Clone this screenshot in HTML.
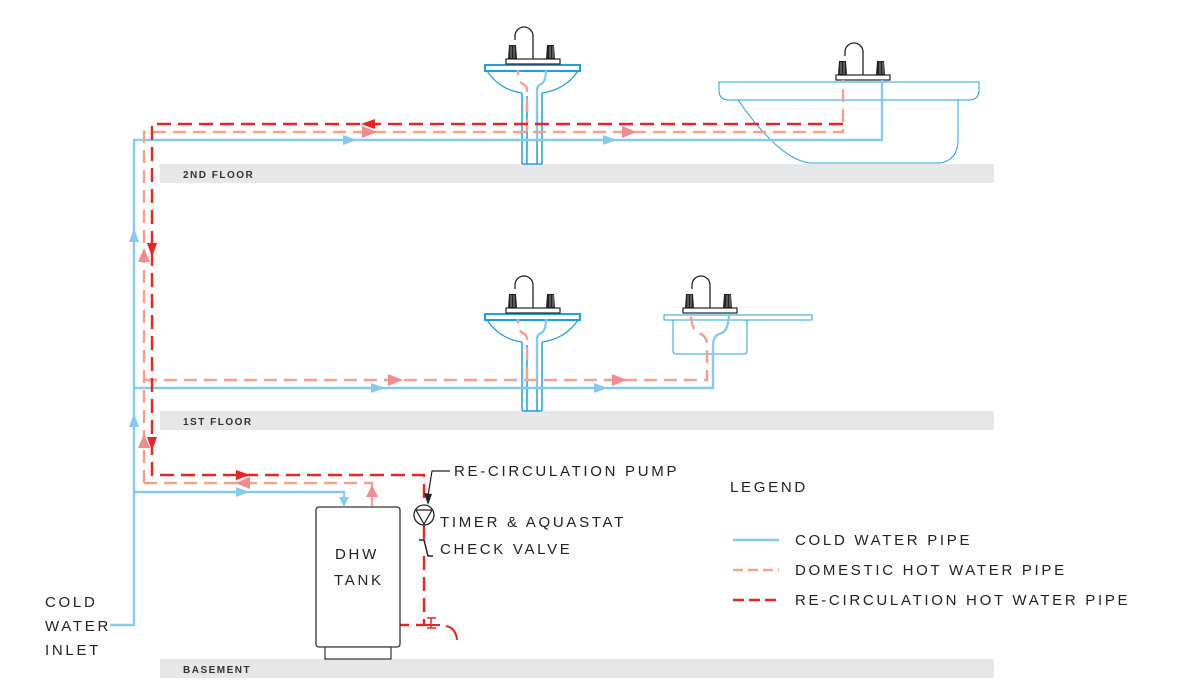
<!DOCTYPE html>
<html><head><meta charset="utf-8"><style>
html,body{margin:0;padding:0;background:#fff;}
svg{display:block;}
text{font-family:"Liberation Sans",sans-serif;fill:#222;}
.t{font-size:15px;letter-spacing:2.7px;}
.f{font-size:10px;font-weight:bold;letter-spacing:1.5px;fill:#333;}
</style></head><body>
<svg width="1196" height="693" viewBox="0 0 1196 693" xmlns="http://www.w3.org/2000/svg">
<defs>
<g id="fau">
 <path d="M-18,-24 V-28 A9,9 0 0 1 0,-28 V-5" fill="none" stroke="#222" stroke-width="1.3"/>
 <rect x="-27" y="-5" width="54" height="5" fill="#fff" stroke="#222" stroke-width="1.2"/>
 <path d="M-25,-5 L-24,-19 H-17 L-16,-5 Z M13,-5 L14,-19 H21 L22,-5 Z" fill="#222"/>
 <path d="M-22,-18 V-6 M-19,-18 V-6 M17,-18 V-6 M20,-18 V-6" stroke="#fff" stroke-width="0.5"/>
</g>
</defs>
<rect x="160" y="164" width="834" height="19" fill="#e6e7e8"/>
<rect x="160" y="411" width="834" height="19" fill="#e6e7e8"/>
<rect x="160" y="659" width="834" height="19" fill="#e6e7e8"/>
<text class="f" x="183" y="178">2ND FLOOR</text>
<text class="f" x="183" y="425">1ST FLOOR</text>
<text class="f" x="183" y="673">BASEMENT</text>

<g fill="none" stroke="#1ea0e0">
 <rect x="485" y="65" width="95" height="6" stroke-width="2"/>
 <path d="M487,71 Q500,90 522,93 M578,71 Q565,90 542,93" stroke-width="1.2"/>
 <path d="M522,93 V164 M542,93 V164 M527,96 V164 M537,96 V164 M522,164 H542" stroke-width="1.5"/>
</g>
<use href="#fau" x="533" y="64"/>
<g fill="none" stroke="#1ea0e0">
 <rect x="485" y="314" width="95" height="6" stroke-width="2"/>
 <path d="M487,320 Q500,339 522,342 M578,320 Q565,339 542,342" stroke-width="1.2"/>
 <path d="M522,342 V411 M542,342 V411 M527,345 V411 M537,345 V411 M522,411 H542" stroke-width="1.5"/>
</g>
<use href="#fau" x="533" y="313"/>
<g fill="none" stroke="#1ea0e0" stroke-width="1">
 <rect x="664" y="315" width="148" height="5"/>
 <path d="M673,320 V351 Q673,354 676,354 H744 Q747,354 747,351 V320"/>
</g>
<use href="#fau" x="710" y="313"/>
<g fill="none" stroke="#1ea0e0" stroke-width="1">
 <path d="M719,82 H979 V90 Q979,100 969,100 H729 Q719,100 719,90 Z"/>
 <path d="M738,100 Q780,160 810,163 H940 Q958,160 958,140 V100"/>
</g>
<use href="#fau" x="863" y="80"/>

<g fill="none" stroke="#86c9f0" stroke-width="2.4">
 <path d="M110,625 H134 V140 H882 V80"/>
 <path d="M134,388 H713 V345 Q713,335 722,333 Q728,330 729,316"/>
 <path d="M134,492 H344 V505"/>
 <path d="M537,140 V90 Q537,86 541,84 Q546,82 546,70"/>
 <path d="M537,388 V339 Q537,335 541,333 Q546,331 546,319"/>
</g>
<g fill="none" stroke="#f5a08c" stroke-width="2.4" stroke-dasharray="13,7">
 <path d="M144,483 V132 H843 V80"/>
 <path d="M144,380 H707 V345 Q707,335 698,333 Q692,330 691,316"/>
 <path d="M144,483 H372 V506"/>
 <path d="M527,132 V90 Q527,86 523,84 Q518,82 518,70"/>
 <path d="M527,380 V339 Q527,335 523,333 Q518,331 518,319"/>
</g>
<g fill="none" stroke="#ee2222" stroke-width="2.4" stroke-dasharray="14,7">
 <path d="M843,124 H152 V475 H424 V505"/>
 <path d="M424,525 V540 M424,556 V625 H400"/>
</g>
<path d="M424,625 H440" stroke="#ee2222" stroke-width="2"/>
<path d="M431,618 V628 M427,618 H436 M427,628 H436" stroke="#ee2222" stroke-width="1.5" fill="none"/>
<path d="M446,626 Q456,628 457,640" stroke="#ee2222" stroke-width="2" fill="none"/>

<g fill="#86c9f0">
 <path d="M343,135 L357,140 L343,145 Z"/><path d="M603,135 L617,140 L603,145 Z"/>
 <path d="M371,383 L385,388 L371,393 Z"/><path d="M594,383 L608,388 L594,393 Z"/>
 <path d="M236,487 L250,492 L236,497 Z"/>
 <path d="M129,242 L134,228 L139,242 Z"/><path d="M129,427 L134,413 L139,427 Z"/>
 <path d="M339,497 L344,507 L349,497 Z"/>
</g>
<g fill="#f08b91">
 <path d="M362,126 L377,132 L362,138 Z"/><path d="M622,126 L637,132 L622,138 Z"/>
 <path d="M388,374 L403,380 L388,386 Z"/><path d="M612,374 L627,380 L612,386 Z"/>
 <path d="M250,477 L235,483 L250,489 Z"/>
 <path d="M138,262 L144,248 L150,262 Z"/><path d="M138,448 L144,434 L150,448 Z"/>
 <path d="M366,497 L372,485 L378,497 Z"/>
</g>
<g fill="#ee2222">
 <path d="M375,119 L361,124 L375,129 Z"/>
 <path d="M147,243 L152,257 L157,243 Z"/><path d="M147,437 L152,451 L157,437 Z"/>
 <path d="M236,470 L250,475 L236,480 Z"/>
</g>

<rect x="316" y="507" width="84" height="140" rx="3" fill="#fff" stroke="#333" stroke-width="1.3"/>
<rect x="325" y="647" width="66" height="12" fill="#fff" stroke="#333" stroke-width="1.2"/>
<text class="t" x="335" y="559">DHW</text>
<text class="t" x="334" y="585">TANK</text>
<circle cx="424" cy="515" r="10" fill="#fff" stroke="#222" stroke-width="1.3"/>
<path d="M416,510 H432 L424,524 Z" fill="none" stroke="#222" stroke-width="1.2"/>
<path d="M419,540 H424 L428,556 H433" stroke="#222" stroke-width="1.5" fill="none"/>
<path d="M450,471 H432 L428,496" stroke="#222" stroke-width="1.2" fill="none"/>
<path d="M424,493 L428,505 L432,494 Z" fill="#222"/>
<text class="t" x="454" y="476">RE-CIRCULATION PUMP</text>
<text class="t" x="440" y="527">TIMER &amp; AQUASTAT</text>
<text class="t" x="440" y="554">CHECK VALVE</text>
<text class="t" x="45" y="607">COLD</text>
<text class="t" x="45" y="631">WATER</text>
<text class="t" x="45" y="655">INLET</text>

<text class="t" x="730" y="492">LEGEND</text>
<path d="M733,540 H779" stroke="#86c9f0" stroke-width="2.4"/>
<path d="M733,570 H779" stroke="#f5a08c" stroke-width="2.4" stroke-dasharray="10,5"/>
<path d="M733,600 H779" stroke="#ee2222" stroke-width="2.4" stroke-dasharray="11,5"/>
<text class="t" x="795" y="545">COLD WATER PIPE</text>
<text class="t" x="795" y="575">DOMESTIC HOT WATER PIPE</text>
<text class="t" x="795" y="605">RE-CIRCULATION HOT WATER PIPE</text>
</svg>
</body></html>
